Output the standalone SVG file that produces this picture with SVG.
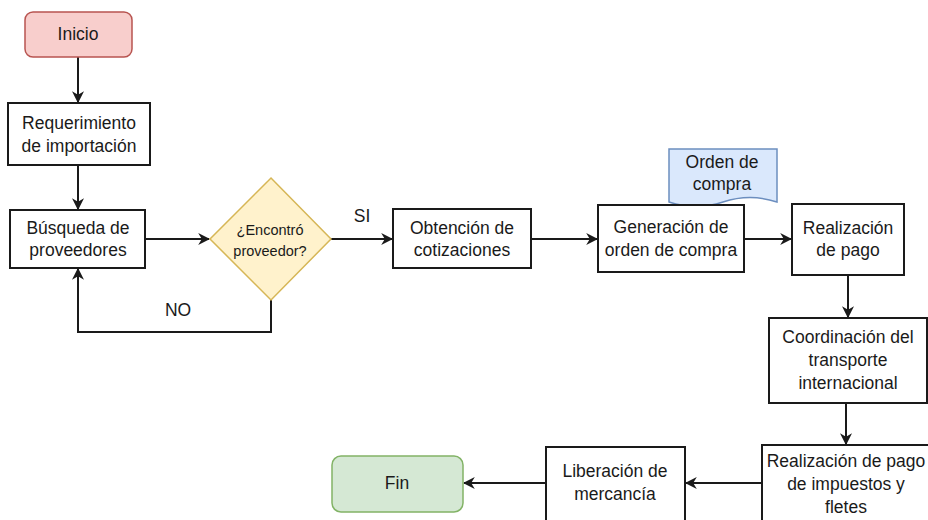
<svg xmlns="http://www.w3.org/2000/svg" width="928" height="520" viewBox="0 0 928 520">
  <style>
    .box { fill: #ffffff; stroke: #1a1a1a; stroke-width: 2; }
    .start { fill: #f8cecc; stroke: #b85450; stroke-width: 1.5; }
    .end { fill: #d5e8d4; stroke: #82b366; stroke-width: 1.5; }
    .decision { fill: #fff2cc; stroke: #d6b656; stroke-width: 1.5; }
    .doc { fill: #dae8fc; stroke: #6c8ebf; stroke-width: 1.5; }
    .edge { fill: none; stroke: #1a1a1a; stroke-width: 2; }
    text { font-family: "Liberation Sans", Arial, sans-serif; font-size: 17.5px; fill: #1a1a1a; text-anchor: middle; }
    .small { font-size: 14.5px; }
  </style>
  <defs>
    <marker id="arrow" viewBox="0 0 10 10" refX="9" refY="5" markerWidth="12" markerHeight="12" markerUnits="userSpaceOnUse" orient="auto">
      <path d="M0,0 L10,5 L0,10 L3,5 Z" fill="#1a1a1a"/>
    </marker>
  </defs>
  <rect width="928" height="520" fill="#ffffff"/>

  <g id="connectors">
    <path d="M78,57 V102" class="edge" marker-end="url(#arrow)"/>
    <path d="M78,165 V209" class="edge" marker-end="url(#arrow)"/>
    <path d="M145,239 H209" class="edge" marker-end="url(#arrow)"/>
    <path d="M331,239 H392" class="edge" marker-end="url(#arrow)"/>
    <path d="M271,300 V332 H78 V269" class="edge" marker-end="url(#arrow)"/>
    <path d="M531,239 H597" class="edge" marker-end="url(#arrow)"/>
    <path d="M744,239 H791" class="edge" marker-end="url(#arrow)"/>
    <path d="M848,275 V317" class="edge" marker-end="url(#arrow)"/>
    <path d="M846,403 V444" class="edge" marker-end="url(#arrow)"/>
    <path d="M762,483 H686" class="edge" marker-end="url(#arrow)"/>
    <path d="M546,483 H464" class="edge" marker-end="url(#arrow)"/>
    <text x="362" y="222">SI</text>
    <text x="178" y="316">NO</text>
  </g>

  <g id="inicio">
    <rect class="start" x="25" y="12" width="107" height="45" rx="8"/>
    <text x="78" y="40">Inicio</text>
  </g>

  <g id="requerimiento">
    <rect class="box" x="8" y="103" width="142" height="62"/>
    <text x="79" y="129">Requerimiento</text>
    <text x="79" y="152">de importación</text>
  </g>

  <g id="busqueda">
    <rect class="box" x="10" y="210" width="135" height="58"/>
    <text x="78" y="234">Búsqueda de</text>
    <text x="78" y="256">proveedores</text>
  </g>

  <g id="decision">
    <polygon class="decision" points="271,178 331,239 271,300 210,239"/>
    <text class="small" x="270" y="235">¿Encontró</text>
    <text class="small" x="270" y="256">proveedor?</text>
  </g>

  <g id="obtencion">
    <rect class="box" x="393" y="209" width="138" height="59"/>
    <text x="462" y="234">Obtención de</text>
    <text x="462" y="256">cotizaciones</text>
  </g>

  <g id="orden-doc">
    <path class="doc" d="M669,149 H777 V202 Q750,193 723,202 Q696,211 669,202 Z"/>
    <text x="722" y="168">Orden de</text>
    <text x="722" y="190">compra</text>
  </g>

  <g id="generacion">
    <rect class="box" x="598" y="205" width="146" height="67"/>
    <text x="671" y="233">Generación de</text>
    <text x="671" y="256">orden de compra</text>
  </g>

  <g id="pago">
    <rect class="box" x="792" y="204" width="112" height="71"/>
    <text x="848" y="234">Realización</text>
    <text x="848" y="256">de pago</text>
  </g>

  <g id="coordinacion">
    <rect class="box" x="769" y="318" width="158" height="85"/>
    <text x="848" y="343">Coordinación del</text>
    <text x="848" y="366">transporte</text>
    <text x="848" y="389">internacional</text>
  </g>

  <g id="impuestos">
    <rect class="box" x="762" y="445" width="180" height="90"/>
    <text x="846" y="467">Realización de pago</text>
    <text x="846" y="490">de impuestos y</text>
    <text x="846" y="513">fletes</text>
  </g>

  <g id="liberacion">
    <rect class="box" x="546" y="447" width="139" height="90"/>
    <text x="615" y="477">Liberación de</text>
    <text x="615" y="500">mercancía</text>
  </g>

  <g id="fin">
    <rect class="end" x="332" y="456" width="131" height="56" rx="9"/>
    <text x="397" y="489">Fin</text>
  </g>
</svg>
